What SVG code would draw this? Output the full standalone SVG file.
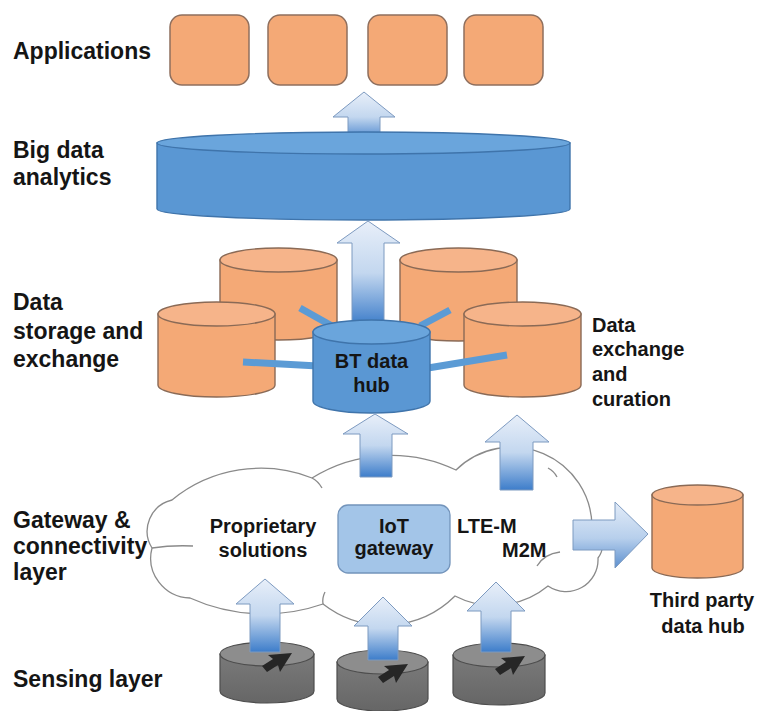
<svg xmlns="http://www.w3.org/2000/svg" width="757" height="711" viewBox="0 0 757 711">
<style>
.lbl{font-family:"Liberation Sans",Arial,sans-serif;font-weight:bold;font-size:23px;fill:#151515}
.in{font-family:"Liberation Sans",Arial,sans-serif;font-weight:bold;font-size:20px;fill:#151515;text-anchor:middle}
.app{fill:#f4a976;stroke:#8e6f5e;stroke-width:1.5}
.ob{fill:#f4a976;stroke:#8a6a56;stroke-width:1.4}
.ot{fill:#f6b48a;stroke:#8a6a56;stroke-width:1.4}
.bb{fill:#5a97d3;stroke:#3f74ab;stroke-width:1.4}
.bt{fill:#6aa5dc;stroke:#3f74ab;stroke-width:1.4}
.gb{fill:url(#gside);stroke:#4d4d4d;stroke-width:1.2}
.gt{fill:#8d8d8d;stroke:#4d4d4d;stroke-width:1.2}
.up{fill:url(#gup);stroke:#7d9ac0;stroke-width:1}
.cloud{fill:#ffffff;stroke:#8a8a8a;stroke-width:1.3}
.cin{fill:none;stroke:#8a8a8a;stroke-width:1.3}
.link{stroke:#5b9bd5;stroke-width:7;fill:none}
.cur{fill:#262626}
</style>
<defs>
<linearGradient id="gup" x1="0" y1="0" x2="0" y2="1">
<stop offset="0" stop-color="#e8eff9"/>
<stop offset="0.5" stop-color="#c3d7ef"/>
<stop offset="1" stop-color="#3d7dca"/>
</linearGradient>
<linearGradient id="gright" x1="0" y1="0" x2="0" y2="1">
<stop offset="0" stop-color="#e3ecf8"/>
<stop offset="0.55" stop-color="#b7cfec"/>
<stop offset="1" stop-color="#5d90cf"/>
</linearGradient>
<linearGradient id="gside" x1="0" y1="0" x2="0" y2="1">
<stop offset="0" stop-color="#7a7a7a"/>
<stop offset="1" stop-color="#666666"/>
</linearGradient>
<path id="cursor" d="M0,0 L-24,2 L-19,6 L-30,13 L-25,19 L-14,12 L-12,19 Z"/>
</defs>
<rect width="757" height="711" fill="#ffffff"/>

<g id="labels">
<text class="lbl" x="13" y="59">Applications</text>
<text class="lbl" x="13" y="158">Big data</text>
<text class="lbl" x="13" y="185">analytics</text>
<text class="lbl" x="13" y="310">Data</text>
<text class="lbl" x="13" y="339">storage and</text>
<text class="lbl" x="13" y="367">exchange</text>
<text class="lbl" x="13" y="528">Gateway &amp;</text>
<text class="lbl" x="13" y="554">connectivity</text>
<text class="lbl" x="13" y="580">layer</text>
<text class="lbl" x="13" y="687">Sensing layer</text>
</g>

<g id="applications">
<rect class="app" x="170" y="15" width="79" height="70" rx="12"/>
<rect class="app" x="268" y="15" width="79" height="70" rx="12"/>
<rect class="app" x="368" y="15" width="79" height="70" rx="12"/>
<rect class="app" x="464" y="15" width="79" height="70" rx="12"/>
</g>

<g id="connectors">
<polygon id="arrow-bigdata-apps" class="up" points="364,92 395,117 380,117 380,142 348,142 348,117 333,117"/>
</g>

<g id="big-data">
<path class="bb" d="M157,143 V209 A206.5,11 0 0 0 570,209 V143 Z"/>
<ellipse class="bt" cx="363.5" cy="143" rx="206.5" ry="11"/>
</g>

<g id="storage-back-left">
<path class="ob" d="M220,260 V328 A58.5,12 0 0 0 337,328 V260 Z"/>
<ellipse class="ot" cx="278.5" cy="260" rx="58.5" ry="12"/>
</g>
<g id="storage-back-right">
<path class="ob" d="M400,260 V329 A58.5,12 0 0 0 517,329 V260 Z"/>
<ellipse class="ot" cx="458.5" cy="260" rx="58.5" ry="12"/>
</g>
<g id="storage-front-left">
<path class="ob" d="M158,314 V385 A58.5,12 0 0 0 275,385 V314 Z"/>
<ellipse class="ot" cx="216.5" cy="314" rx="58.5" ry="12"/>
</g>
<g id="storage-front-right">
<path class="ob" d="M464,314 V385 A58.5,12 0 0 0 581,385 V314 Z"/>
<ellipse class="ot" cx="522.5" cy="314" rx="58.5" ry="12"/>
</g>

<g id="hub-links">
<line class="link" x1="243" y1="362" x2="318" y2="366"/>
<line class="link" x1="300" y1="308" x2="332" y2="326"/>
<line class="link" x1="450" y1="310" x2="420" y2="326"/>
<line class="link" x1="507" y1="355" x2="428" y2="368"/>
<polygon id="arrow-hub-bigdata" class="up" points="368,221 400,243 384,243 384,325 352,325 352,243 337,243"/>
</g>

<g id="bt-data-hub">
<path class="bb" d="M313,332 V401 A58.5,12 0 0 0 430,401 V332 Z"/>
<ellipse class="bt" cx="371.5" cy="332" rx="58.5" ry="12"/>
<text class="in" x="371.5" y="368">BT data</text>
<text class="in" x="371.5" y="392">hub</text>
</g>

<g id="data-exchange-label">
<text class="lbl" style="font-size:20px" x="592" y="332">Data</text>
<text class="lbl" style="font-size:20px" x="592" y="356">exchange</text>
<text class="lbl" style="font-size:20px" x="592" y="381">and</text>
<text class="lbl" style="font-size:20px" x="592" y="406">curation</text>
</g>

<g id="cloud">
<path class="cloud" d="M152,548 A32,32 0 0 1 172,500 A140,140 0 0 1 312,478 A150,150 0 0 1 456,470 A80,80 0 0 1 592,528 A20,20 0 0 1 598,558 A32,32 0 0 1 548,586 A85,85 0 0 1 455,596 A100,100 0 0 1 323,604 A180,180 0 0 1 190,598 A40,40 0 0 1 152,548 Z"/>
<path class="cin" d="M152,548 Q172,545 193,546"/>
<path class="cin" d="M312,478 Q318,481 322,488"/>
<path class="cin" d="M548,468 Q554,471 557,477"/>
<path class="cin" d="M537,566 Q544,554 560,552"/>
<path class="cin" d="M323,604 Q322,598 325,592"/>
</g>

<g id="gateway-connectivity">
<text class="in" x="263" y="533">Proprietary</text>
<text class="in" x="263" y="557">solutions</text>
<rect x="338" y="505" width="112" height="68" rx="10" fill="#a3c5e8" stroke="#7394bb" stroke-width="1.3"/>
<text class="in" x="394" y="533">IoT</text>
<text class="in" x="394" y="555">gateway</text>
<text class="lbl" style="font-size:20px" x="457" y="533">LTE-M</text>
<text class="lbl" style="font-size:20px" x="502" y="557">M2M</text>
</g>

<g id="third-party-hub">
<path class="ob" d="M652,495 V568 A45.5,10 0 0 0 743,568 V495 Z"/>
<ellipse class="ot" cx="697.5" cy="495" rx="45.5" ry="10"/>
<text class="in" x="702" y="607">Third party</text>
<text class="in" x="703" y="633">data hub</text>
</g>

<g id="sensor-1">
<path class="gb" d="M220,654 V691 A47,12 0 0 0 314,691 V654 Z"/>
<ellipse class="gt" cx="267" cy="654" rx="47" ry="12"/>
<use href="#cursor" class="cur" transform="translate(292,653)"/>
</g>
<g id="sensor-2">
<path class="gb" d="M337,662 V699 A45.5,12 0 0 0 428,699 V662 Z"/>
<ellipse class="gt" cx="382.5" cy="662" rx="45.5" ry="12"/>
<use href="#cursor" class="cur" transform="translate(408,664)"/>
</g>
<g id="sensor-3">
<path class="gb" d="M453,655 V693 A46,12 0 0 0 545,693 V655 Z"/>
<ellipse class="gt" cx="499" cy="655" rx="46" ry="12"/>
<use href="#cursor" class="cur" transform="translate(525,656)"/>
</g>

<g id="flow-arrows">
<polygon id="arrow-cloud-hub" class="up" points="375,414 408,434 392,434 392,477 360,477 360,434 343,434"/>
<polygon id="arrow-cloud-exchange" class="up" points="517,415 549,442 533,442 533,490 500,490 500,442 485,442"/>
<polygon id="arrow-cloud-thirdparty" fill="url(#gright)" stroke="#7d9ac0" stroke-width="1" points="573,520 615,520 615,502 648,534 615,568 615,550 573,550"/>
<polygon id="arrow-sensor1" class="up" points="265,579 294,604 280,604 280,652 250,652 250,604 236,604"/>
<polygon id="arrow-sensor2" class="up" points="383,597 412,626 398,626 398,660 368,660 368,626 354,626"/>
<polygon id="arrow-sensor3" class="up" points="496,582 525,611 511,611 511,652 481,652 481,611 467,611"/>
</g>
</svg>
